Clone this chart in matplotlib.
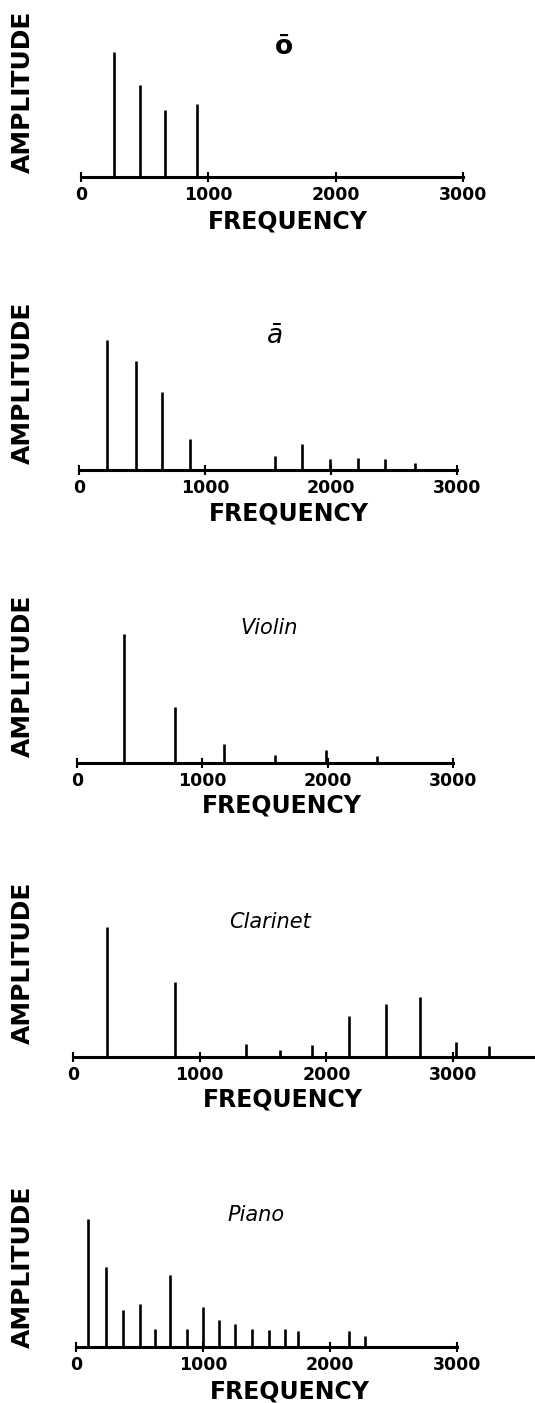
import matplotlib
matplotlib.use("Agg")
import matplotlib.pyplot as plt

# ---- data (frequency in Hz, amplitude in arbitrary units) ----
o_freq = [259, 463, 660, 911]
o_amp = [125, 92, 67, 73]

a_freq = [222, 452, 659, 881, 1556, 1770, 1992, 2214, 2429, 2667]
a_amp = [130, 109, 78, 31, 14, 26, 11, 12, 11, 7]

violin_freq = [375, 782, 1173, 1580, 1987, 2394]
violin_amp = [129, 56, 19, 8, 13, 7]

clarinet_freq = [268, 805, 1365, 1634, 1886, 2178, 2470, 2739, 3023, 3283]
clarinet_amp = [130, 75, 13, 7, 12, 41, 53, 60, 15, 11]

piano_freq = [94, 236, 370, 504, 622, 740, 874, 1000, 1126, 1252, 1386,
              1520, 1646, 1748, 2150, 2276]
piano_amp = [128, 80, 37, 43, 18, 72, 18, 40, 27, 23, 18, 17, 18, 16, 16, 11]

titles = ["\u014D", "\u0101", "Violin", "Clarinet", "Piano"]
tick_values = [0, 1000, 2000, 3000]
tick_labels = ["0", "1000", "2000", "3000"]
xlabel = "FREQUENCY"
ylabel = "AMPLITUDE"

series = [(o_freq, o_amp), (a_freq, a_amp), (violin_freq, violin_amp),
          (clarinet_freq, clarinet_amp), (piano_freq, piano_amp)]

# ---- layout (pixels) ----
W, H = 535, 1403
fig = plt.figure(figsize=(W / 100, H / 100), dpi=100)
fig.patch.set_facecolor("white")

panels = [
    dict(x0=81, ppk=127.3, ya=177, xmax=3000, title_xy=(1595, 130), style="normal",
         weight="bold", tsize=19, amp_y=92, freq_xy=(288, 222)),
    dict(x0=79, ppk=126.0, ya=470, xmax=3000, title_xy=(1556, 134), style="italic",
         weight="normal", tsize=19, amp_y=383, freq_xy=(289, 514)),
    dict(x0=77, ppk=125.3, ya=763, xmax=3000, title_xy=(1532, 135), style="italic",
         weight="normal", tsize=15, amp_y=676, freq_xy=(282, 806)),
    dict(x0=73, ppk=126.7, ya=1057, xmax=3650, title_xy=(1555, 135), style="italic",
         weight="normal", tsize=15, amp_y=963, freq_xy=(283, 1100)),
    dict(x0=76, ppk=127.0, ya=1347, xmax=3000, title_xy=(1417, 132), style="italic",
         weight="normal", tsize=15, amp_y=1267, freq_xy=(290, 1391)),
]

AX_H = 150  # pixels; ylim equals pixel height so amplitude ~ pixels

for (freq, amp), title, p in zip(series, titles, panels):
    width_px = p["ppk"] * p["xmax"] / 1000.0
    ax = fig.add_axes([p["x0"] / W, (H - p["ya"]) / H, width_px / W, AX_H / H])
    ax.set_xlim(0, p["xmax"])
    ax.set_ylim(0, AX_H)
    ax.vlines(freq, 0, amp, colors="black", linewidth=1.9)
    for s in ["top", "right", "left"]:
        ax.spines[s].set_visible(False)
    ax.spines["bottom"].set_linewidth(2.2)
    ax.spines["bottom"].set_color("black")
    ax.set_yticks([])
    ax.set_xticks(tick_values)
    ax.set_xticklabels(tick_labels, fontsize=12.5, fontweight="bold")
    ax.tick_params(axis="x", direction="inout", length=7, width=1.5, pad=3)
    ax.patch.set_alpha(0)
    ax.text(p["title_xy"][0], p["title_xy"][1], title, ha="center", va="center",
            fontsize=p["tsize"], style=p["style"], fontweight=p["weight"])
    fig.text(23 / W, 1 - p["amp_y"] / H, ylabel, rotation=90, ha="center", va="center",
             fontsize=18, fontweight="bold")
    fig.text(p["freq_xy"][0] / W, 1 - p["freq_xy"][1] / H, xlabel, ha="center", va="center",
             fontsize=17, fontweight="bold")

fig.savefig("out.png", dpi=100, facecolor="white")
